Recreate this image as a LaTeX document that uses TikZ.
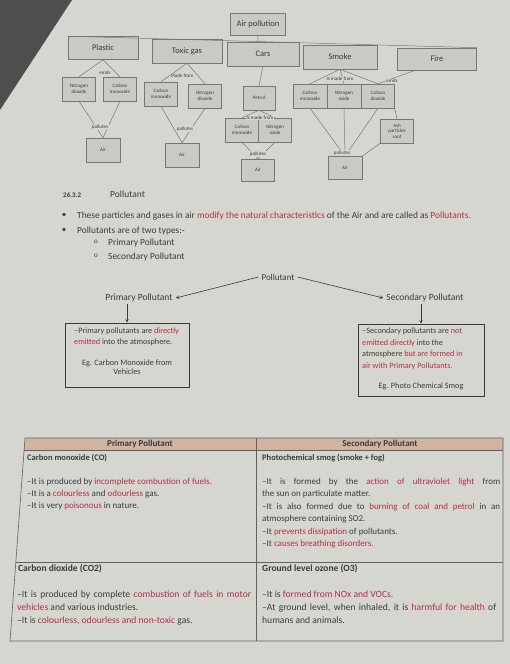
\documentclass[tikz,border=0pt]{standalone}
\usepackage{fontspec}
\setmainfont{Carlito}
\usetikzlibrary{calc}
\definecolor{paper}{RGB}{214,214,209}
\definecolor{corner}{RGB}{78,78,78}
\definecolor{boxfill}{RGB}{202,202,197}
\definecolor{boxline}{RGB}{118,118,116}
\definecolor{ink}{RGB}{58,58,58}
\definecolor{hilite}{RGB}{178,48,66}
\definecolor{headfill}{RGB}{207,180,162}
\newcommand{\rd}[1]{\textcolor{hilite}{#1}}
\newcommand{\fsz}[2]{\fontsize{#1}{#2}\selectfont}
\tikzset{
  topbox/.style={draw=boxline,fill=boxfill,line width=.6pt,font=\fsz{8.5}{9},text=ink},
  subbox/.style={draw=boxline,fill=boxfill,line width=.5pt,minimum width=33,minimum height=24,
    align=center,font=\fsz{5}{5.6},text=ink,inner sep=1},
  airbox/.style={subbox,minimum width=34,minimum height=24},
  linklbl/.style={fill=paper,inner sep=.5,font=\fsz{5}{5.6},text=ink},
  link/.style={draw=boxline,line width=.5pt},
  plain/.style={inner sep=0,text=ink},
  bodytxt/.style={anchor=north west,inner sep=0,align=left,text=ink},
  tabline/.style={draw=ink!80,line width=.6pt}
}
\begin{document}
\begin{tikzpicture}[x=1pt,y=-1pt,>=stealth]
\useasboundingbox (0,0) rectangle (510,664);
\fill[paper] (0,0) rectangle (510,664);
\fill[corner] (0,0) -- (72,0) -- (0,110) -- cycle;

% air pollution tree
\node[topbox,minimum width=55,minimum height=22] (air) at (258,24) {Air pollution};
\node[topbox,minimum width=70,minimum height=23] (plastic) at (103,48) {Plastic};
\node[topbox,minimum width=70,minimum height=24] (toxic) at (187,51) {Toxic gas};
\node[topbox,minimum width=72,minimum height=24] (cars) at (263,54) {Cars};
\node[topbox,minimum width=74,minimum height=24] (smoke) at (340,57) {Smoke};
\node[topbox,minimum width=79,minimum height=22] (fire) at (437,59) {Fire};
\draw[link] (plastic.north west) -- (fire.north east);
\coordinate (busjoin) at ($(plastic.north west)!(air.south)!(fire.north east)$);
\draw[link] (air.south) -- (busjoin);

\node[subbox] (pno2) at (79,89) {Nitrogen\\dioxide};
\node[subbox] (pco) at (120,89) {Carbon\\monoxide};
\node[airbox] (pair) at (103,150) {Air};
\draw[link] (plastic.south) -- (pno2.north);
\draw[link] (plastic.south) -- (pco.north);
\draw[link] (pno2.south) -- (pair.north);
\draw[link] (pco.south) -- (pair.north);
\node[linklbl] (plbl1) at (105,73) {emits};
\node[linklbl] (plbl2) at (100,127) {pollutes};

\node[subbox] (tco) at (161,94) {Carbon\\monoxide};
\node[subbox] (tno2) at (205,96) {Nitrogen\\dioxide};
\node[airbox] (tair) at (182,155) {Air};
\draw[link] (toxic.south) -- (tco.north);
\draw[link] (toxic.south) -- (tno2.north);
\draw[link] (tco.south) -- (tair.north);
\draw[link] (tno2.south) -- (tair.north);
\node[linklbl] (tlbl1) at (182,76) {Made from};
\node[linklbl] (tlbl2) at (185,129) {pollutes};

\node[subbox,minimum width=32] (petrol) at (259,98) {Petrol};
\node[subbox] (cco) at (242,130) {Carbon\\monoxide};
\node[subbox] (cno) at (275,130) {Nitrogen\\oxide};
\node[airbox,minimum width=33,minimum height=22] (cair) at (258,170) {Air};
\draw[link] (cars.south) -- (petrol.north);
\draw[link] (petrol.south) -- (cco.north);
\draw[link] (petrol.south) -- (cno.north);
\draw[link] (cco.south) -- (cair.north);
\draw[link] (cno.south) -- (cair.north);
\node[linklbl] (clbl1) at (260,118) {Is made from};
\node[linklbl] (clbl2) at (258,154) {pollutes};

\node[subbox,minimum width=34] (sco) at (310,96) {Carbon\\monoxide};
\node[subbox,minimum width=34] (sno) at (344,96) {Nitrogen\\oxide};
\node[subbox,minimum width=33] (sco2) at (378,96) {Carbon\\dioxide};
\node[subbox] (sash) at (397,131) {Ash\\particles\\soot};
\node[airbox,minimum height=23] (sair) at (345,168) {Air};
\draw[link] (smoke.south) -- (sco.north);
\draw[link] (smoke.south) -- (sno.north);
\draw[link] (smoke.south) -- (sco2.north);
\draw[link] ([xshift=-22]fire.south) -- (sco2.north);
\draw[link] (sco.south) -- (sair.north);
\draw[link] (sno.south) -- (sair.north);
\draw[link] (sco2.south) -- (sair.north);
\draw[link] (sco2.south east) -- (sash.north);
\draw[link] (sash.south west) -- (sair.north east);
\node[linklbl] (slbl1) at (340,79) {Is made from};
\node[linklbl] (slbl2) at (392,81) {emits};
\node[linklbl] (slbl3) at (342,153) {pollutes};

% section text
\node[plain,anchor=base west,font=\bfseries\fsz{7}{8}] (secnum) at (63,197.5) {26.3.2};
\node[plain,anchor=base west,font=\fsz{9.5}{10}] (sectitle) at (110,197.5) {Pollutant};
\node[plain,font=\fsz{9}{10}] (dot1) at (64,215) {\textbullet};
\node[plain,anchor=base west,font=\fsz{9.4}{10}] (line1) at (77,218)
  {These particles and gases in air \rd{modify the natural characteristics} of the Air and are called as \rd{Pollutants.}};
\node[plain,font=\fsz{9}{10}] (dot2) at (64,230) {\textbullet};
\node[plain,anchor=base west,font=\fsz{9.4}{10}] (line2) at (77,233) {Pollutants are of two types:-};
\node[plain,font=\fsz{7}{8}] (sub1o) at (96,242) {o};
\node[plain,anchor=base west,font=\fsz{9.4}{10}] (sub1) at (108,245) {Primary Pollutant};
\node[plain,font=\fsz{7}{8}] (sub2o) at (96,256) {o};
\node[plain,anchor=base west,font=\fsz{9.4}{10}] (sub2) at (108,259) {Secondary Pollutant};

% pollutant split
\node[plain,font=\fsz{9}{10}] (pol) at (278,277) {Pollutant};
\node[plain,font=\fsz{9.5}{10}] (prim) at (139,298) {Primary Pollutant};
\node[plain,font=\fsz{9.5}{10}] (sec) at (425,298) {Secondary Pollutant};
\draw[->,ink,line width=.6pt] ([xshift=-3]pol.west) -- ([xshift=3]prim.east);
\draw[->,ink,line width=.6pt] ([xshift=3]pol.east) -- ([xshift=-3]sec.west);
\node[draw=ink,line width=.6pt,minimum width=124,minimum height=64,inner sep=0] (primbox) at (127,355) {};
\node[draw=ink,line width=.6pt,minimum width=126,minimum height=72,inner sep=0] (secbox) at (421,360) {};
\draw[->,ink,line width=.6pt] ([yshift=-2]prim.south -| primbox.north) -- (primbox.north);
\draw[->,ink,line width=.6pt] ([yshift=-2]sec.south -| secbox.north) -- (secbox.north);
\node[bodytxt,font=\fsz{8.2}{11}] (primtxt) at (74,328)
  {--Primary pollutants are \rd{directly}\\\rd{emitted} into the atmosphere.};
\node[plain,align=center,font=\fsz{8.2}{9.5}] (primeg) at (127,367) {Eg. Carbon Monoxide from\\Vehicles};
\node[bodytxt,font=\fsz{8.2}{11.4}] (sectxt) at (362,328)
  {--Secondary pollutants are \rd{not}\\\rd{emitted directly} into the\\atmosphere \rd{but are formed in}\\\rd{air with Primary Pollutants.}};
\node[plain,font=\fsz{8.2}{9}] (seceg) at (421,386) {Eg. Photo Chemical Smog};

% comparison table
\fill[headfill] (25,438) -- (503,438) -- (503,450) -- (24,450) -- cycle;
\draw[tabline] (25,438) -- (503,438) -- (503,641) -- (10,641) -- cycle;
\draw[tabline] (24,450) -- (503,450);
\draw[tabline] (16,562) -- (503,562);
\draw[tabline] (256,438) -- (256,641);
\node[plain,font=\bfseries\fsz{9}{9}] (hprim) at (140,444) {Primary Pollutant};
\node[plain,font=\bfseries\fsz{9}{9}] (hsec) at (380,444) {Secondary Pollutant};

\node[plain,anchor=base west,font=\bfseries\fsz{8.5}{9}] (coh) at (27,460) {Carbon monoxide (CO)};
\node[bodytxt,font=\fsz{9}{11.8}] (cotxt) at (27,478)
  {--It is produced by \rd{incomplete combustion of fuels.}\\
   --It is a \rd{colourless} and \rd{odourless} gas.\\
   --It is very \rd{poisonous} in nature.};
\node[plain,anchor=base west,font=\bfseries\fsz{8.5}{9}] (smogh) at (262,460) {Photochemical smog (smoke + fog)};
\node[bodytxt,font=\fsz{9}{12.4}] (smogtxt) at (262,478)
  {\makebox[238pt][s]{--It is formed by the \rd{action of ultraviolet light} from}\\
   the sun on particulate matter.\\
   \makebox[238pt][s]{--It is also formed due to \rd{burning of coal and petrol} in an}\\
   atmosphere containing SO2.\\
   --It \rd{prevents dissipation} of pollutants.\\
   --It \rd{causes breathing disorders.}};

\node[plain,anchor=base west,font=\bfseries\fsz{9.5}{10}] (co2h) at (18,571) {Carbon dioxide (CO2)};
\node[bodytxt,font=\fsz{9.6}{13}] (co2txt) at (17,591)
  {\makebox[234pt][s]{--It is produced by complete \rd{combustion of fuels in motor}}\\
   \rd{vehicles} and various industries.\\
   --It is \rd{colourless, odourless and non-toxic} gas.};
\node[plain,anchor=base west,font=\bfseries\fsz{9.5}{10}] (o3h) at (262,571) {Ground level ozone (O3)};
\node[bodytxt,font=\fsz{9.6}{13}] (o3txt) at (262,591)
  {--It is \rd{formed from NOx and VOCs.}\\
   \makebox[234pt][s]{--At ground level, when inhaled, it is \rd{harmful for health} of}\\
   humans and animals.};
\end{tikzpicture}
\end{document}
